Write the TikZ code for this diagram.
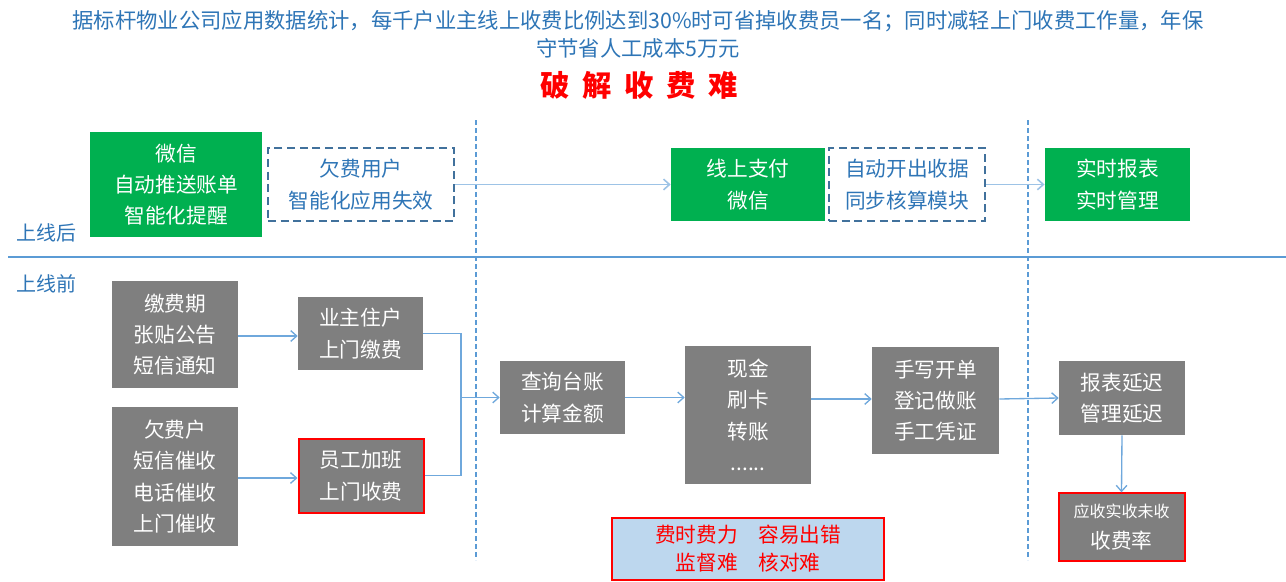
\documentclass[tikz,border=0pt]{standalone}
\usepackage{fontspec}
\setmainfont{Noto Sans CJK SC}
\usetikzlibrary{arrows.meta,calc}
\definecolor{tblue}{HTML}{2E75B6}
\definecolor{gboxc}{HTML}{00B050}
\definecolor{grayc}{HTML}{7F7F7F}
\definecolor{dashc}{HTML}{41719C}
\definecolor{linec}{HTML}{5B9BD5}
\definecolor{toparr}{HTML}{9DC3E6}
\definecolor{botarr}{HTML}{6FA8DC}
\definecolor{redc}{HTML}{FF0000}
\definecolor{lblue}{HTML}{BDD7EE}
\newcommand{\hgap}{\hspace{9.5pt}}
\tikzset{
  boxfont/.style={font=\fontsize{15.5}{23.5}\selectfont},
  greenbox/.style={fill=gboxc, text=white, inner sep=0pt, align=center, boxfont},
  graybox/.style={fill=grayc, text=white, inner sep=0pt, align=center, boxfont},
  dashbox/.style={draw=dashc, line width=1.5pt, dash pattern=on 6pt off 3.5pt, text=tblue, inner sep=0pt, align=center, boxfont},
  redframe/.style={draw=redc, line width=1.5pt},
  toparrow/.style={draw=toparr, line width=1.2pt, -{Straight Barb[length=4.5pt,width=8pt]}},
  botarrow/.style={draw=botarr, line width=1pt, -{Straight Barb[length=4.5pt,width=8pt]}},
  botline/.style={draw=botarr, line width=1pt},
  vdash/.style={draw=linec, line width=1.4pt, dash pattern=on 3.5pt off 2.5pt},
  lbl/.style={text=tblue, anchor=west, inner sep=0pt, font=\fontsize{15}{18}\selectfont}
}
\begin{document}
\begin{tikzpicture}[x=0.75pt,y=-0.75pt]
\useasboundingbox (0,0) rectangle (1286,582);
% title
\node[text=tblue, align=center, inner sep=0pt, font=\fontsize{16}{21}\selectfont] (title) at (638,34)
  {据标杆物业公司应用数据统计，每千户业主线上收费比例达到30\%时可省掉收费员一名；同时减轻上门收费工作量，年保\\守节省人工成本5万元};
\node[text=redc, inner sep=0pt, font=\fontsize{22}{26}\selectfont\bfseries] (head) at (639,85) {破\hgap 解\hgap 收\hgap 费\hgap 难};
% dividers
\draw[line width=1.5pt, draw=linec] (8,257) -- (1286,257);
\draw[vdash] (476,120) -- (476,560);
\draw[vdash] (1028,120) -- (1028,560);
\node[lbl] (after) at (16,233) {上线后};
\node[lbl] (before) at (16,284) {上线前};
% top row
\node[greenbox, minimum width=129pt, minimum height=78.75pt] (g1) at (176,184.5) {微信\\自动推送账单\\智能化提醒};
\node[dashbox, minimum width=139.5pt, minimum height=54.75pt] (d1) at (361,184.5) {欠费用户\\智能化应用失效};
\node[greenbox, minimum width=115.5pt, minimum height=54.75pt] (g2) at (748,184.5) {线上支付\\微信};
\node[dashbox, minimum width=117pt, minimum height=54.75pt] (d2) at (907,184.5) {自动开出收据\\同步核算模块};
\node[greenbox, minimum width=109pt, minimum height=54.75pt] (g3) at (1117.5,184.5) {实时报表\\实时管理};
\draw[toparrow] (d1.east) -- (g2.west);
\draw[toparrow] (d2.east) -- (g3.west);
% bottom row
\node[graybox, minimum width=94.5pt, minimum height=80.25pt] (A) at (175,334.5) {缴费期\\张贴公告\\短信通知};
\node[graybox, minimum width=94.5pt, minimum height=104.25pt] (B) at (175,476.5) {欠费户\\短信催收\\电话催收\\上门催收};
\node[graybox, minimum width=93.75pt, minimum height=54.75pt] (C) at (360.5,333.5) {业主住户\\上门缴费};
\node[graybox, redframe, minimum width=93.75pt, minimum height=55.5pt] (D) at (361,475.5) {员工加班\\上门收费};
\node[graybox, minimum width=93.75pt, minimum height=54.75pt] (E) at (562.5,397.5) {查询台账\\计算金额};
\node[graybox, minimum width=94.5pt, minimum height=103.5pt] (F) at (748,415) {现金\\刷卡\\转账\\......};
\node[graybox, minimum width=95.25pt, minimum height=80.25pt] (G) at (935.5,400.5) {手写开单\\登记做账\\手工凭证};
\node[graybox, minimum width=94.5pt, minimum height=55.5pt] (H) at (1122,398) {报表延迟\\管理延迟};
\node[graybox, redframe, minimum width=94.5pt, minimum height=50.5pt] (I) at (1121.5,527)
  {{\fontsize{12}{21}\selectfont 应收实收未收}\\收费率};
\node[fill=lblue, redframe, text=redc, inner sep=0pt, align=center, minimum width=204.5pt, minimum height=46.5pt,
  font=\fontsize{15.5}{20.5}\selectfont] (R) at (748,548.5) {费时费力\quad 容易出错\\监督难\quad 核对难};
\coordinate (J) at (461,397.5);
\draw[botarrow] (A.east |- 0,336) -- (C.west |- 0,336);
\draw[botarrow] (B.east |- 0,478) -- (D.west |- 0,478);
\draw[botline] (C.east) -| (J);
\draw[botline] (D.east) -| (J);
\draw[botarrow] (J) -- (E.west);
\draw[botarrow] (E.east) -- (F.west |- E.east);
\draw[botarrow] (F.east |- 0,399) -- (G.west |- 0,399);
\draw[botarrow] (G.east |- 0,399) -- (H.west);
\draw[botarrow] (H.south) -- (I.north);
\end{tikzpicture}
\end{document}
